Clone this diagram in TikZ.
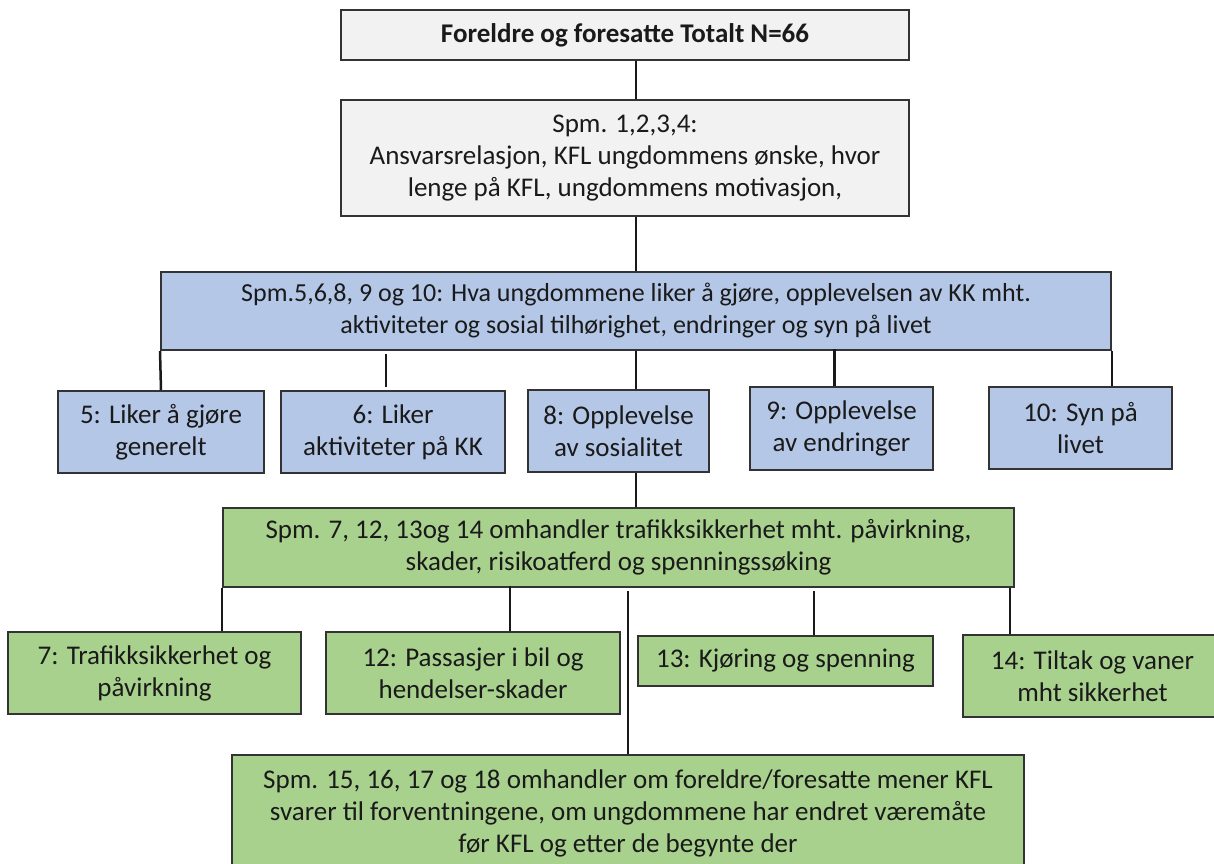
\documentclass[tikz,border=0pt]{standalone}
\usepackage{fontspec}
\setmainfont{Carlito}
\definecolor{grayfill}{HTML}{F2F2F2}
\definecolor{bluefill}{HTML}{B4C7E7}
\definecolor{greenfill}{HTML}{A9D18E}
\definecolor{edgecol}{HTML}{333333}
\definecolor{txtcol}{HTML}{1A1A1A}
\begin{document}
\begin{tikzpicture}[x=1pt,y=-1pt,
  box/.style={rectangle,draw=edgecol,line width=2pt,inner sep=0pt,align=center,
    font=\fontsize{27}{32}\selectfont,text=txtcol},
  graybox/.style={box,fill=grayfill},
  bluebox/.style={box,fill=bluefill},
  greenbox/.style={box,fill=greenfill},
  conn/.style={line width=2.5pt,draw=black!90}]
\useasboundingbox (0,0) rectangle (1214,863);
\clip (0,0) rectangle (1214,863);
\fill[white] (0,0) rectangle (1214,863);

\node[graybox,minimum width=568pt,minimum height=50pt,font=\fontsize{27}{32}\selectfont\bfseries] (top) at (625,35) {Foreldre og foresatte Totalt N=66};
\node[graybox,minimum width=568pt,minimum height=116pt] (q14) at (625,158) {Spm. 1,2,3,4:\\Ansvarsrelasjon, KFL ungdommens ønske, hvor\\lenge på KFL, ungdommens motivasjon,};
\node[bluebox,minimum width=950pt,minimum height=78pt,font=\fontsize{26}{32}\selectfont] (blue) at (636,311) {Spm.5,6,8, 9 og 10: Hva ungdommene liker å gjøre, opplevelsen av KK mht.\\aktiviteter og sosial tilhørighet, endringer og syn på livet};
\node[bluebox,minimum width=206pt,minimum height=82pt] (b5) at (161,432) {5: Liker å gjøre\\generelt};
\node[bluebox,minimum width=224pt,minimum height=82pt] (b6) at (393,432) {6: Liker\\aktiviteter på KK};
\node[bluebox,minimum width=181pt,minimum height=82pt] (b8) at (618.5,431) {8: Opplevelse\\av sosialitet};
\node[bluebox,minimum width=183pt,minimum height=83pt] (b9) at (841.5,428.5) {9: Opplevelse\\av endringer};
\node[bluebox,minimum width=183pt,minimum height=82pt] (b10) at (1080.5,428) {10: Syn på\\livet};
\node[greenbox,minimum width=791pt,minimum height=79pt] (green1) at (618.5,547.5) {Spm. 7, 12, 13og 14 omhandler trafikksikkerhet mht. påvirkning,\\skader, risikoatferd og spenningssøking};
\node[greenbox,minimum width=293pt,minimum height=82pt] (b7) at (154.5,673) {7: Trafikksikkerhet og\\påvirkning};
\node[greenbox,minimum width=294pt,minimum height=82pt] (b12) at (473,673) {12: Passasjer i bil og\\hendelser-skader};
\node[greenbox,minimum width=295pt,minimum height=50pt] (b13) at (785.5,661) {13: Kjøring og spenning};
\node[greenbox,minimum width=259pt,minimum height=82pt] (b14) at (1092.5,676) {14: Tiltak og vaner\\mht sikkerhet};
\node[greenbox,minimum width=792pt,minimum height=116pt] (bottom) at (628,813) {Spm. 15, 16, 17 og 18 omhandler om foreldre/foresatte mener KFL\\svarer til forventningene, om ungdommene har endret væremåte\\før KFL og etter de begynte der};

\draw[conn] (blue.north |- top.south) -- (blue.north |- q14.north);
\draw[conn] (blue.north |- q14.south) -- (blue.north);
\draw[conn] (blue.south west) -- (b5.north);
\draw[conn] ([xshift=-7pt,yshift=36pt]b6.north) -- ([xshift=-7pt,yshift=3pt]b6.north);
\draw[conn] (blue.south) -- (blue.south |- b8.north);
\draw[conn] (blue.south |- b8.south) -- (blue.south |- green1.north);
\draw[conn] ([xshift=-7pt]b9.north) -- ++(0,-37);
\draw[conn] (blue.south east) -- (blue.south east |- b10.north);
\draw[conn] (green1.south west) -- (green1.south west |- b7.north);
\draw[conn] ([xshift=37pt]b12.north) -- ++(0,-45);
\draw[conn] ([yshift=163pt]bottom.north) -- (bottom.north);
\draw[conn] ([xshift=28.5pt]b13.north) -- ++(0,-44);
\draw[conn] ([xshift=-5pt]green1.south east) -- ([xshift=-5pt]green1.south east |- b14.north);
\end{tikzpicture}
\end{document}
